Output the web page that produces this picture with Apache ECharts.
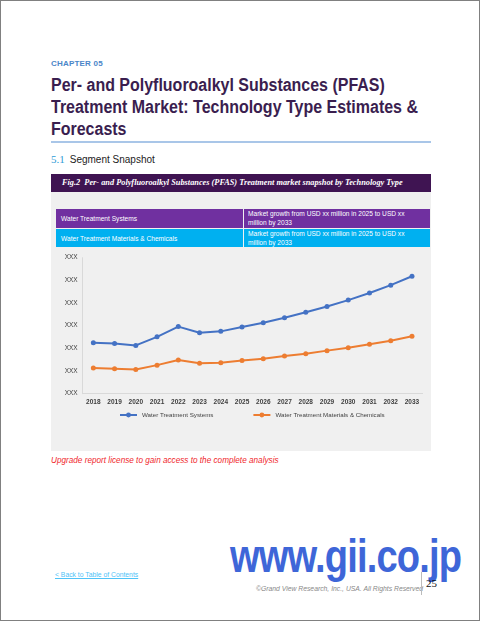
<!DOCTYPE html>
<html>
<head>
<meta charset="utf-8">
<script src="https://cdn.jsdelivr.net/npm/echarts@6/dist/echarts.min.js"></script>
<style>
  html, body { margin: 0; padding: 0; background: #fff; }
  #page { position: relative; width: 478px; height: 619px; border: 1px solid #808080; overflow: hidden; font-family: "Liberation Sans", Arial, sans-serif; }
  .abs { position: absolute; white-space: nowrap; }
  #chapter { left: 50px; top: 58px; font-size: 8px; font-weight: bold; color: #4A86C8; letter-spacing: 0.2px; }
  #title { left: 50px; top: 73px; font-size: 17.5px; font-weight: bold; color: #3A1E4F; line-height: 22px; transform-origin: 0 0; }
  #rule { left: 50px; top: 140px; width: 380px; height: 2px; background: #A9C6E8; }
  #sec { left: 50px; top: 152px; font-size: 10px; color: #222; }
  #sec .num { font-family: "Liberation Serif", serif; color: #2E9BD6; font-size: 11px; margin-right: 5px; }
  #hdr { left: 50px; top: 173px; width: 380px; height: 18px; background: #3F1452; }
  #hdrtxt { left: 61px; top: 177px; font-family: "Liberation Serif", serif; font-style: italic; font-weight: bold; font-size: 8.3px; color: #fff; }
  #panel { left: 50px; top: 191px; width: 380px; height: 259px; background: #F0F0F0; }
  .cell { position: absolute; color: #fff; font-size: 6.6px; box-sizing: border-box; }
  #chart { position: absolute; left: 50px; top: 248px; width: 380px; height: 180px; }
  #upg { left: 50px; top: 455px; font-size: 8.2px; font-style: italic; color: #F0282D; }
  #wm { left: 229px; top: 528px; font-size: 46px; font-weight: bold; color: #3E66D8; letter-spacing: -1px; transform-origin: 0 0; }
  #back { left: 54px; top: 570px; font-size: 6.8px; color: #4FC3F7; text-decoration: underline; }
  #copy { left: 255px; top: 584px; font-size: 6.8px; font-style: italic; color: #888; }
  #vline { left: 420px; top: 571px; width: 1px; height: 23px; background: #bbb; }
  #pg { left: 425px; top: 576px; font-family: "Liberation Serif", serif; font-size: 11px; color: #111; }
</style>
</head>
<body>
<div id="page">
  <div class="abs" id="chapter">CHAPTER 05</div>
  <div class="abs" id="title">Per- and Polyfluoroalkyl Substances (PFAS)<br>Treatment Market: Technology Type Estimates &amp;<br>Forecasts</div>
  <div class="abs" id="rule"></div>
  <div class="abs" id="sec"><span class="num">5.1</span>Segment Snapshot</div>
  <div class="abs" id="hdr"></div>
  <div class="abs" id="hdrtxt">Fig.2&nbsp; Per- and Polyfluoroalkyl Substances (PFAS) Treatment market snapshot by Technology Type</div>
  <div class="abs" id="panel"></div>
  <div class="cell" style="left:55px;top:208px;width:187px;height:19px;background:#7030A0;padding:6px 0 0 5px;">Water Treatment Systems</div>
  <div class="cell" style="left:243px;top:208px;width:186px;height:19px;background:#7030A0;padding:1px 0 0 4px;line-height:8.5px;">Market growth from USD xx million in 2025 to USD xx<br>million by 2033</div>
  <div class="cell" style="left:55px;top:228px;width:187px;height:18px;background:#00B0F0;padding:6px 0 0 5px;">Water Treatment Materials &amp; Chemicals</div>
  <div class="cell" style="left:243px;top:228px;width:186px;height:18px;background:#00B0F0;padding:1px 0 0 4px;line-height:8.5px;">Market growth from USD xx million in 2025 to USD xx<br>million by 2033</div>
  <div id="chart"></div>
  <div class="abs" id="upg">Upgrade report license to gain access to the complete analysis</div>
  <div class="abs" id="wm">www.gii.co.jp</div>
  <div class="abs" id="back">&lt; Back to Table of Contents</div>
  <div class="abs" id="copy">©Grand View Research, Inc., USA. All Rights Reserved</div>
  <div class="abs" id="vline"></div>
  <div class="abs" id="pg">25</div>
</div>
<script>
const years = ['2018','2019','2020','2021','2022','2023','2024','2025','2026','2027','2028','2029','2030','2031','2032','2033'];
const waterTreatmentSystems = [2.25, 2.21, 2.13, 2.51, 2.96, 2.69, 2.75, 2.94, 3.13, 3.35, 3.59, 3.85, 4.13, 4.44, 4.79, 5.18];
const waterTreatmentMaterials = [1.13, 1.10, 1.07, 1.26, 1.49, 1.34, 1.37, 1.46, 1.54, 1.66, 1.76, 1.90, 2.03, 2.18, 2.34, 2.53];
const yTickLabel = 'XXX';
const seriesNames = ['Water Treatment Systems', 'Water Treatment Materials & Chemicals'];

const chart = echarts.init(document.getElementById('chart'), null, { renderer: 'canvas' });
const txt = { fontFamily: 'Liberation Sans, Arial, sans-serif', fontSize: 6.5, color: '#404040' };
chart.setOption({
  animation: false,
  backgroundColor: 'transparent',
  grid: { left: 31.7, right: 8.4, top: 8.7, bottom: 35.3, containLabel: false },
  legend: {
    left: 68, top: 163, itemWidth: 17, itemHeight: 6, itemGap: 39, padding: 0,
    textStyle: Object.assign({}, txt, { fontSize: 6.2 }),
    data: seriesNames
  },
  xAxis: {
    type: 'category', data: years, boundaryGap: true,
    axisLine: { lineStyle: { color: '#D9D9D9', width: 1 } },
    axisTick: { show: false },
    axisLabel: Object.assign({}, txt, { margin: 5, fontWeight: 'bold', interval: 0 })
  },
  yAxis: {
    type: 'value', min: 0, max: 6, interval: 1,
    axisLine: { show: true, lineStyle: { color: '#D9D9D9', width: 1 } },
    axisTick: { show: false },
    splitLine: { show: false },
    axisLabel: Object.assign({}, txt, { margin: 5, formatter: () => yTickLabel })
  },
  series: [
    { name: seriesNames[0], type: 'line', data: waterTreatmentSystems, symbol: 'circle', symbolSize: 5,
      lineStyle: { color: '#4472C4', width: 2 }, itemStyle: { color: '#4472C4' } },
    { name: seriesNames[1], type: 'line', data: waterTreatmentMaterials, symbol: 'circle', symbolSize: 5,
      lineStyle: { color: '#ED7D31', width: 2 }, itemStyle: { color: '#ED7D31' } }
  ]
});
// fit the title and watermark widths to the reference
function fit(id, w) { const el = document.getElementById(id); const r = el.scrollWidth; el.style.transform = 'scaleX(' + (w / r) + ')'; }
fit('title', 367);
fit('wm', 231);
</script>
</body>
</html>
